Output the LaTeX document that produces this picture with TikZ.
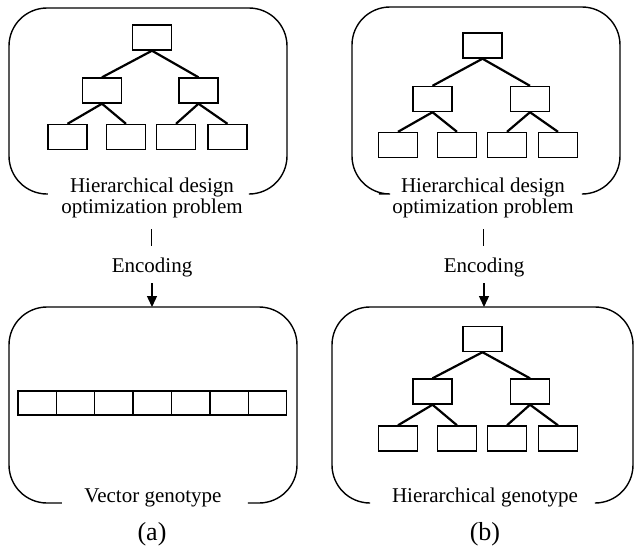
\documentclass[tikz,border=0pt]{standalone}
\usepackage{fontspec}
\setmainfont{Liberation Serif}
\usetikzlibrary{arrows.meta}

\tikzset{
  cell/.style={draw, line width=0.7pt, minimum width=19.5pt, minimum height=12.5pt, inner sep=0pt},
  vcell/.style={draw, line width=0.7pt, minimum width=19.2pt, minimum height=12pt, inner sep=0pt},
  edge/.style={line width=1.1pt},
  frame/.style={line width=0.7pt, rounded corners=19pt},
  label/.style={anchor=base, inner sep=0pt, font=\fontsize{10.5}{10.5}\selectfont},
  caption/.style={anchor=base, inner sep=0pt, font=\fontsize{13}{13}\selectfont},
  tick/.style={line width=0.5pt},
  encarrow/.style={line width=0.7pt, -{Triangle[length=5.5pt,width=5pt]}}
}

\begin{document}
\begin{tikzpicture}[x=0.5pt, y=-0.5pt]
\useasboundingbox (0,0) rectangle (634,548);

% ---------- (a) problem frame ----------
\draw[frame] (252,194) -- (287,194) -- (287,8) -- (9,8) -- (9,194) -- (48,194);
\node[cell] (ar)  at (152,37.5) {};
\node[cell] (aml) at (102,90.5) {};
\node[cell] (amr) at (198.5,90.5) {};
\node[cell] (al1) at (67.5,137) {};
\node[cell] (al2) at (126,137) {};
\node[cell] (al3) at (176,137) {};
\node[cell] (al4) at (227.5,137) {};
\draw[edge] (ar.south) -- (aml.north);
\draw[edge] (ar.south) -- (amr.north);
\draw[edge] (aml.south) -- (al1.north);
\draw[edge] (aml.south) -- (al2.north);
\draw[edge] (amr.south) -- (al3.north);
\draw[edge] (amr.south) -- (al4.north);
\node[label] (aprob1) at (152,192) {Hierarchical design};
\node[label] (aprob2) at (152,213) {optimization problem};

% encoding step (a)
\coordinate (at1) at (152,229);
\coordinate (at2) at (152,246);
\draw[tick] (at1) -- (at2);
\node[label] (aenc) at (152,272) {Encoding};
\coordinate (aa1) at (152,283);
\coordinate (aa2) at (152,307);
\draw[encarrow] (aa1) -- (aa2);

% ---------- (a) vector genotype frame ----------
\draw[frame] (248,503) -- (297,503) -- (297,307) -- (9,307) -- (9,503) -- (62,503);
\foreach \i in {0,...,6} {
  \node[vcell] (v\i) at ({18+38.4*(\i+0.5)},403) {};
}
\node[label] (avec) at (153,502) {Vector genotype};
\node[caption] (acap) at (152,540) {(a)};

% ---------- (b) problem frame ----------
\draw[frame] (585,194) -- (620,194) -- (620,7) -- (352,7) -- (352,194) -- (379,194);
\node[cell] (br)  at (482.5,45.5) {};
\node[cell] (bml) at (432.5,99) {};
\node[cell] (bmr) at (530,99) {};
\node[cell] (bl1) at (398,145) {};
\node[cell] (bl2) at (457,145) {};
\node[cell] (bl3) at (507,145) {};
\node[cell] (bl4) at (558,145) {};
\draw[edge] (br.south) -- (bml.north);
\draw[edge] (br.south) -- (bmr.north);
\draw[edge] (bml.south) -- (bl1.north);
\draw[edge] (bml.south) -- (bl2.north);
\draw[edge] (bmr.south) -- (bl3.north);
\draw[edge] (bmr.south) -- (bl4.north);
\node[label] (bprob1) at (483,192) {Hierarchical design};
\node[label] (bprob2) at (483,213) {optimization problem};

% encoding step (b)
\coordinate (bt1) at (484,229);
\coordinate (bt2) at (484,246);
\draw[tick] (bt1) -- (bt2);
\node[label] (benc) at (484,272) {Encoding};
\coordinate (ba1) at (484,283);
\coordinate (ba2) at (484,307);
\draw[encarrow] (ba1) -- (ba2);

% ---------- (b) hierarchical genotype frame ----------
\draw[frame] (597,503) -- (633,503) -- (633,307) -- (332,307) -- (332,503) -- (367,503);
\node[cell] (gr)  at (482.5,339) {};
\node[cell] (gml) at (432.5,391.5) {};
\node[cell] (gmr) at (530,391.5) {};
\node[cell] (gl1) at (398,438.5) {};
\node[cell] (gl2) at (457,438.5) {};
\node[cell] (gl3) at (507,438.5) {};
\node[cell] (gl4) at (558,438.5) {};
\draw[edge] (gr.south) -- (gml.north);
\draw[edge] (gr.south) -- (gmr.north);
\draw[edge] (gml.south) -- (gl1.north);
\draw[edge] (gml.south) -- (gl2.north);
\draw[edge] (gmr.south) -- (gl3.north);
\draw[edge] (gmr.south) -- (gl4.north);
\node[label] (bgen) at (485,502) {Hierarchical genotype};
\node[caption] (bcap) at (485,540) {(b)};
\end{tikzpicture}
\end{document}
